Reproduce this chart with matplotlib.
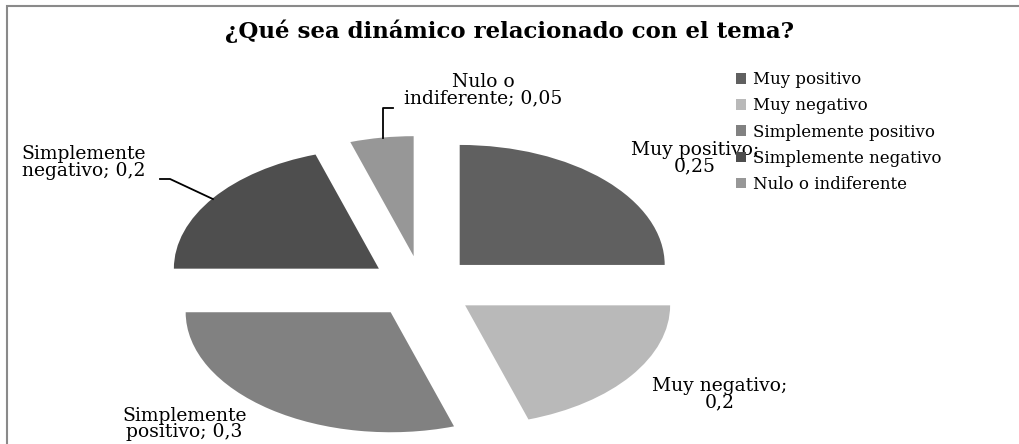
import numpy as np
import matplotlib.pyplot as plt
from matplotlib.patches import Rectangle

categories = ['Muy positivo', 'Muy negativo', 'Simplemente positivo',
              'Simplemente negativo', 'Nulo o indiferente']
values = [0.25, 0.2, 0.3, 0.2, 0.05]
value_labels = ['0,25', '0,2', '0,3', '0,2', '0,05']
colors = ['#606060', '#b9b9b9', '#818181', '#4e4e4e', '#979797']

plt.rcParams['font.family'] = ['DejaVu Serif']

W, H = 1019, 444
fig = plt.figure(figsize=(W / 100, H / 100), dpi=100)

# chart border (only top and left visible in the crop)
fig.patches.append(Rectangle((6.5 / W, -0.1), 1.2, (H - 6.5) / H + 0.1,
                             transform=fig.transFigure, fill=False,
                             edgecolor='#8a8a8a', linewidth=1.5))

# axes placed so that unit radius = 205 px across, 120 px down
cx, cy, rx, ry = 422, 287, 205, 120
xl, yl = 2.0, 1.3
ax = fig.add_axes([(cx - xl * rx) / W, (H - cy - yl * ry) / H,
                   2 * xl * rx / W, 2 * yl * ry / H])

wedges, _ = ax.pie(values, colors=colors, startangle=90, counterclock=False,
                   explode=[0.26] * 5, radius=1.0)
ax.set_aspect('auto')
ax.set_xlim(-xl, xl)
ax.set_ylim(-yl, yl)
ax.axis('off')

# data labels
lab_pos = [(1.33, 1.075), (1.45, -0.89), (-1.16, -1.14), (-1.65, 1.04), (0.30, 1.64)]
lab_text = ['Muy positivo;\n%s', 'Muy negativo;\n%s', 'Simplemente\npositivo; %s',
            'Simplemente\nnegativo; %s', 'Nulo o\nindiferente; %s']
for (x, y), t, v in zip(lab_pos, lab_text, value_labels):
    ax.text(x, y, t % v, ha='center', va='center', fontsize=13.5,
            linespacing=0.9, clip_on=False)

# leader lines
ax.plot([-1.278, -1.229, -1.02], [0.90, 0.90, 0.733], color='black', lw=1.3, clip_on=False)
ax.plot([-0.14, -0.19, -0.19], [1.49, 1.49, 1.24], color='black', lw=1.3, clip_on=False)

fig.text(0.5, 1 - 31 / H, '¿Qué sea dinámico relacionado con el tema?',
         ha='center', va='center', fontsize=16.5, fontweight='bold')

leg = fig.legend(wedges, categories, loc='upper left',
                 bbox_to_anchor=(728 / W, 1 - 63 / H), frameon=False,
                 fontsize=12, handlelength=0.6, handleheight=0.6,
                 handletextpad=0.4, labelspacing=0.55, borderpad=0)

fig.savefig('out.png', dpi=100)
